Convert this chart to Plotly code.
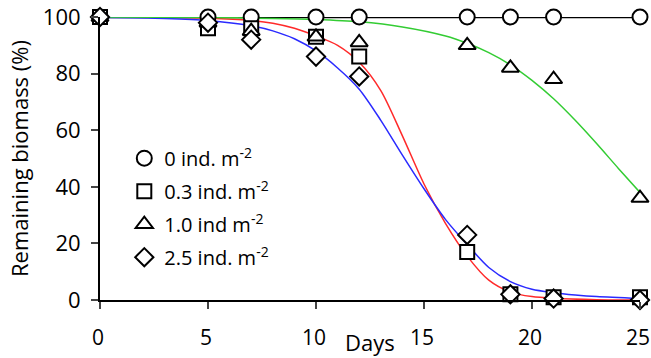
import plotly.graph_objects as go

# observed data
days = [0, 5, 7, 10, 12, 17, 19, 21, 25]
biomass_0 = [100, 100, 100, 100, 100, 100, 100, 100, 100]
biomass_03 = [100, 96, 96, 93, 86, 17, 2, 1, 1]
biomass_10 = [100, 98, 95, 93, 91, 90, 82, 78, 36]
biomass_25 = [100, 98, 92, 86, 79, 23, 2, 0.5, 0]

# fitted curves
fit03_days = [0, 5, 7, 8, 9, 10, 11, 12, 13, 14, 15, 16, 17, 18, 19, 20, 21, 23, 25]
fit03_vals = [100, 99.6, 98.8, 97.8, 96, 93.3, 90, 84, 74, 58, 41, 27, 15.5, 7, 2.8, 1.2, 0.6, 0.1, 0]
fit25_days = [0, 3, 5, 7, 8, 9, 10, 11, 12, 13, 14, 15, 16, 17, 18, 19, 20, 21, 22, 23, 25]
fit25_vals = [99.9, 99.5, 98.8, 96.9, 95.1, 92.3, 88, 82, 74.5, 63.5, 51.2, 39.3, 28.4, 19.6, 11.5, 6.5, 3.8, 2.6, 1.8, 1.2, 0.5]
fit10_days = [0, 5, 8, 10, 12, 14, 16, 17, 18, 19, 20, 21, 22, 23, 24, 25]
fit10_vals = [100, 99.8, 99.5, 99.1, 98.3, 96.5, 93.3, 90.7, 87.4, 83.1, 77.6, 71.1, 63.5, 55.2, 46.5, 38]

labels = ["0 ind. m<sup>-2</sup>", "0.3 ind. m<sup>-2</sup>", "1.0 ind m<sup>-2</sup>", "2.5 ind. m<sup>-2</sup>"]

FONT = "Open Sans"
fig = go.Figure()

fig.add_trace(go.Scatter(x=days, y=biomass_0, mode="lines", line=dict(color="black", width=2.5),
                         showlegend=False, cliponaxis=False))
fig.add_trace(go.Scatter(x=fit03_days, y=fit03_vals, mode="lines",
                         line=dict(color="#ff2a2a", width=1.5, shape="spline", smoothing=0.8),
                         showlegend=False, cliponaxis=False))
fig.add_trace(go.Scatter(x=fit25_days, y=fit25_vals, mode="lines",
                         line=dict(color="#2a2aff", width=1.5, shape="spline", smoothing=0.8),
                         showlegend=False, cliponaxis=False))
fig.add_trace(go.Scatter(x=fit10_days, y=fit10_vals, mode="lines",
                         line=dict(color="#33cc33", width=1.5, shape="spline", smoothing=0.8),
                         showlegend=False, cliponaxis=False))

series = [(biomass_0, "circle"), (biomass_03, "square"), (biomass_10, "triangle-up"), (biomass_25, "diamond")]
sizes = [15, 14, 15, 14]
for i, ((vals, sym), lab) in enumerate(zip(series, labels)):
    fig.add_trace(go.Scatter(
        x=days, y=vals, mode="markers", name=lab, legendgroup=f"g{i}",
        marker=dict(symbol=sym, size=sizes[i], color="white", line=dict(color="black", width=2)),
        cliponaxis=False))

fig.update_layout(
    width=651, height=358,
    margin=dict(l=100, r=11, t=17, b=57.5, autoexpand=False),
    paper_bgcolor="white", plot_bgcolor="white",
    font=dict(family=FONT, size=22, color="black"),
    showlegend=True,
    legend=dict(x=0.045, y=0.57, xanchor="left", yanchor="top", bgcolor="rgba(0,0,0,0)",
                font=dict(size=20), tracegroupgap=4, itemwidth=30),
    xaxis=dict(range=[0, 25], tickvals=[0, 5, 10, 15, 20, 25], ticks="outside", ticklen=7, tickwidth=2,
               showline=True, linecolor="black", linewidth=2, showgrid=False, zeroline=False,
               automargin=False, tickfont=dict(size=21), ticklabelstandoff=11, ticklabelshift=-2,
               ticklabeloverflow="allow"),
    yaxis=dict(range=[0, 100], tickvals=[0, 20, 40, 60, 80, 100], ticks="outside", ticklen=7, tickwidth=2,
               showline=True, linecolor="black", linewidth=2, showgrid=False, zeroline=False,
               automargin=False, tickfont=dict(size=22), ticklabelstandoff=6,
               ticklabeloverflow="allow",
               title=dict(text="Remaining biomass (%)", standoff=8, font=dict(size=22))),
    annotations=[dict(text="Days", xref="paper", yref="paper", x=0.5, y=-0.15,
                      xanchor="center", yanchor="middle", showarrow=False, font=dict(size=22))],
)

fig.write_html("out.html", config={"displayModeBar": False},
               post_script="document.body.style.margin='0px';document.body.style.overflow='hidden';")
